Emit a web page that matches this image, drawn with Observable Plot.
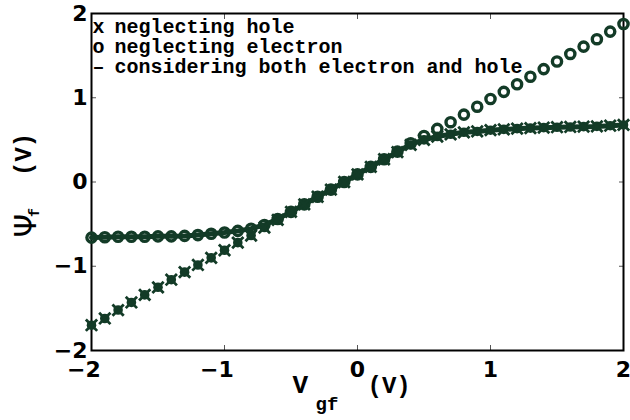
<!DOCTYPE html>
<html>
<head>
<meta charset="utf-8">
<script src="https://cdn.jsdelivr.net/npm/d3@7"></script>
<script src="https://cdn.jsdelivr.net/npm/@observablehq/plot@0.6"></script>
<style>
  html, body { margin: 0; padding: 0; background: white; }
</style>
</head>
<body>
<div id="chart"></div>
<script>
// V_gf values (V)
const vgf = [-2.0, -1.9, -1.8, -1.7, -1.6, -1.5, -1.4, -1.3, -1.2, -1.1, -1.0,
             -0.9, -0.8, -0.7, -0.6, -0.5, -0.4, -0.3, -0.2, -0.1, 0.0,
             0.1, 0.2, 0.3, 0.4, 0.5, 0.6, 0.7, 0.8, 0.9, 1.0,
             1.1, 1.2, 1.3, 1.4, 1.5, 1.6, 1.7, 1.8, 1.9, 2.0];
// psi_f neglecting hole (x markers)
const psiNoHole = [-1.70, -1.62, -1.52, -1.43, -1.34, -1.25, -1.16, -1.07, -0.985, -0.90, -0.81,
                   -0.72, -0.635, -0.54, -0.45, -0.355, -0.265, -0.175, -0.09, 0.0, 0.09,
                   0.18, 0.27, 0.355, 0.44, 0.50, 0.54, 0.566, 0.59, 0.60, 0.615,
                   0.625, 0.633, 0.64, 0.645, 0.65, 0.653, 0.657, 0.66, 0.668, 0.677];
// psi_f neglecting electron (o markers)
const psiNoElectron = [-0.66, -0.655, -0.65, -0.65, -0.65, -0.645, -0.645, -0.64, -0.63, -0.615, -0.60,
                       -0.58, -0.555, -0.51, -0.44, -0.355, -0.265, -0.175, -0.09, 0.0, 0.09,
                       0.18, 0.27, 0.36, 0.46, 0.546, 0.63, 0.71, 0.80, 0.894, 0.985,
                       1.07, 1.16, 1.25, 1.34, 1.43, 1.52, 1.607, 1.695, 1.785, 1.876];
// psi_f considering both electron and hole (line)
const psiBoth = [-0.66, -0.655, -0.65, -0.65, -0.65, -0.645, -0.645, -0.64, -0.63, -0.615, -0.60,
                 -0.58, -0.555, -0.51, -0.44, -0.355, -0.265, -0.175, -0.09, 0.0, 0.09,
                 0.18, 0.27, 0.355, 0.45, 0.50, 0.54, 0.566, 0.59, 0.60, 0.615,
                 0.625, 0.633, 0.64, 0.645, 0.65, 0.653, 0.657, 0.66, 0.668, 0.677];

const xTickValues = [-2, -1, 0, 1, 2];
const yTickValues = [-2, -1, 0, 1, 2];
const innerTicks = [-1, 0, 1];
const legendSymbols = ["x", "o", "\u2013"];
const legendLabels = ["neglecting hole", "neglecting electron", "considering both electron and hole"];

const color = "#133b27";
const mono = "'Liberation Mono', 'DejaVu Sans Mono', monospace";
const sans = "'DejaVu Sans', sans-serif";

const rows = (ys) => vgf.map((x, i) => ({x, y: ys[i]}));
const dataNoHole = rows(psiNoHole);
const dataNoElectron = rows(psiNoElectron);
const dataBoth = rows(psiBoth);

const fmtX = d => d < 0 ? "\u2212" + (-d) + "\u2007" : String(d);
const fmtY = d => d < 0 ? "\u2212" + (-d) : String(d);

const chart = Plot.plot({
  width: 630,
  height: 420,
  marginLeft: 91,
  marginRight: 7,
  marginTop: 13,
  marginBottom: 70,
  x: {domain: [-2, 2]},
  y: {domain: [-2, 2]},
  style: {background: "white", fontFamily: sans, fontWeight: "bold", fontSize: "22px", color: "black"},
  marks: [
    // inward ticks on all four sides
    Plot.axisX(innerTicks, {anchor: "bottom", tickSize: -5, tickFormat: () => "", stroke: "#555", label: null}),
    Plot.axisX(innerTicks, {anchor: "top", tickSize: -5, tickFormat: () => "", stroke: "#555", label: null}),
    Plot.axisY(innerTicks, {anchor: "left", tickSize: -5, tickFormat: () => "", stroke: "#555", label: null}),
    Plot.axisY(innerTicks, {anchor: "right", tickSize: -5, tickFormat: () => "", stroke: "#555", label: null}),
    // tick labels
    Plot.axisX(xTickValues, {anchor: "bottom", tickSize: 0, tickPadding: 11, tickFormat: fmtX, label: null,
      fontSize: 22, fontWeight: "bold", fontFamily: sans, fill: "black"}),
    Plot.axisY(yTickValues, {anchor: "left", tickSize: 0, tickPadding: 4, tickFormat: fmtY, label: null,
      fontSize: 22, fontWeight: "bold", fontFamily: sans, fill: "black"}),
    Plot.frame({stroke: "black", strokeWidth: 2}),
    // data
    Plot.line(dataBoth, {x: "x", y: "y", stroke: color, strokeWidth: 5}),
    Plot.dot(dataNoElectron, {x: "x", y: "y", r: 4.6, stroke: color, strokeWidth: 3.4, fill: "none"}),
    Plot.dot(dataNoHole, {x: "x", y: "y", r: 4.8, fill: color, stroke: "none"}),
    Plot.dot(dataNoHole, {x: "x", y: "y", symbol: "times", r: 5.2, stroke: color, strokeWidth: 2.8}),
    // legend
    Plot.text([legendSymbols.join("\n")], {text: d => d, frameAnchor: "top-left", textAnchor: "start", lineAnchor: "top",
      dx: 1, dy: 5.5, lineHeight: 1, fontFamily: mono, fontWeight: "bold", fontSize: 20, fill: "black"}),
    Plot.text([legendLabels.join("\n")], {text: d => d, frameAnchor: "top-left", textAnchor: "start", lineAnchor: "top",
      dx: 23, dy: 5.5, lineHeight: 1, fontFamily: mono, fontWeight: "bold", fontSize: 20, fill: "black"}),
    // x-axis label: V_gf (V)
    Plot.text(["V"], {text: d => d, frameAnchor: "bottom-left", textAnchor: "start", lineAnchor: "bottom",
      dx: 201, dy: 42, fontFamily: mono, fontWeight: "bold", fontSize: 26, fill: "black"}),
    Plot.text(["gf"], {text: d => d, frameAnchor: "bottom-left", textAnchor: "start", lineAnchor: "bottom",
      dx: 224, dy: 59, fontFamily: mono, fontWeight: "bold", fontSize: 19, fill: "black"}),
    Plot.text(["(V)"], {text: d => d, frameAnchor: "bottom-left", textAnchor: "start", lineAnchor: "bottom",
      dx: 276, dy: 42, fontFamily: mono, fontWeight: "bold", fontSize: 24, fill: "black"}),
    // y-axis label: Ψ_f (V)
    Plot.text(["\u03a8"], {text: d => d, frameAnchor: "left", textAnchor: "start", lineAnchor: "bottom", rotate: -90,
      dx: -56, dy: 55.5, fontFamily: sans, fontWeight: "normal", fontSize: 30, fill: "black"}),
    Plot.text(["f"], {text: d => d, frameAnchor: "left", textAnchor: "start", lineAnchor: "bottom", rotate: -90,
      dx: -53, dy: 35, fontFamily: mono, fontWeight: "bold", fontSize: 15, fill: "black"}),
    Plot.text(["(V)"], {text: d => d, frameAnchor: "left", textAnchor: "start", lineAnchor: "bottom", rotate: -90,
      dx: -61, dy: -6, fontFamily: mono, fontWeight: "bold", fontSize: 24, fill: "black"})
  ]
});
document.getElementById("chart").appendChild(chart);
</script>
</body>
</html>
